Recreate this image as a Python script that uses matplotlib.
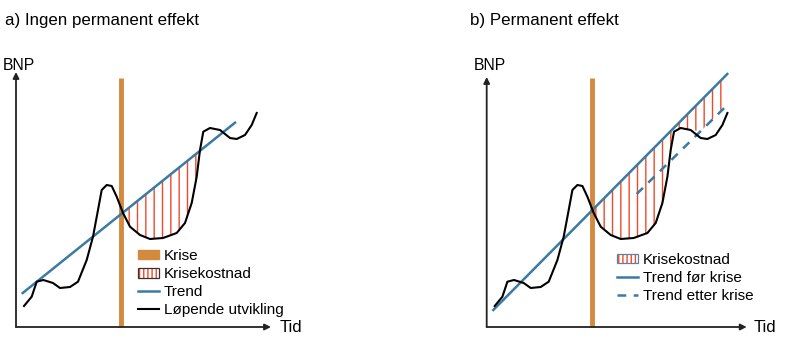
import numpy as np
import matplotlib.pyplot as plt
from matplotlib.patches import Patch
from matplotlib.lines import Line2D

plt.rcParams['font.family'] = ['Liberation Sans', 'DejaVu Sans']
plt.rcParams['hatch.linewidth'] = 1.0

# Løpende utvikling (tid, BNP) - same curve in both panels
tid = np.array([8, 15.7, 20.7, 27.3, 37, 44, 54, 62, 70.7, 77, 82, 85.7, 90.7, 95.7,
                100.7, 107, 114, 124, 134, 147, 160.7, 169, 175.7, 180.7, 184,
                187.3, 194, 204, 214, 220.7, 229, 235.7, 240.7])
bnp = np.array([21, 30.3, 45.3, 47, 44, 39, 40, 45.3, 67, 90.3, 117, 137, 142, 141,
                130.3, 114, 100.3, 92, 88, 89, 94, 104, 124, 150.3, 177,
                195.3, 199, 197, 189, 188, 192, 202, 214])

krise = 105

# trend lines (start/end points)
trend_a_x = [6.7, 219]
trend_a_y = [34, 204.3]
trend_b_x = [6.6, 240.6]
trend_b_y = [17, 253]
trend_etter_x = [150, 240.6]
trend_etter_y = [133, 222]

orange = '#d38a3e'
blue = '#3a7ba3'
red = '#ee4a2a'

fig = plt.figure(figsize=(7.97, 3.51), dpi=100)
W, H = 797, 351
ax1 = fig.add_axes([0, 0, 398 / W, 1])
ax2 = fig.add_axes([398 / W, 0, 399 / W, 1])
ax1.set_xlim(-16, 382)
ax2.set_xlim(-88.7, 310.3)
for ax in (ax1, ax2):
    ax.set_ylim(-24, 327)
    ax.axis('off')


def draw_axes(ax, xtip, ytip, bnp_x, tid_x):
    ax.annotate('', xy=(0, ytip), xytext=(0, 0),
                arrowprops=dict(arrowstyle='-|>', color='#222222', lw=1.3,
                                mutation_scale=9, shrinkA=0, shrinkB=0))
    ax.annotate('', xy=(xtip, 0), xytext=(0, 0),
                arrowprops=dict(arrowstyle='-|>', color='#222222', lw=1.3,
                                mutation_scale=9, shrinkA=0, shrinkB=0))
    ax.text(bnp_x, 262, 'BNP', fontsize=11.3, ha='left', va='center')
    ax.text(tid_x, 0, 'Tid', fontsize=12, ha='left', va='center')
    ax.plot([krise, krise], [0, 249], color=orange, lw=3.5, solid_capstyle='butt', zorder=2)


def kost_handle(border):
    return (Patch(facecolor='white', edgecolor=red, hatch='||||', linewidth=0),
            Patch(facecolor='none', edgecolor=border, linewidth=0.9))


# a) Ingen permanent effekt
draw_axes(ax1, 255, 255, -13, 264)
tr_a = np.interp(tid, trend_a_x, trend_a_y)
after = tid >= krise
rec_a = np.argmax(after & (tr_a < bnp) & (tid > 150))
mask_a = after & (np.arange(len(tid)) <= rec_a)
ax1.fill_between(tid, bnp, tr_a, where=mask_a & (tr_a > bnp) | (np.arange(len(tid)) == rec_a),
                 interpolate=True, facecolor='none', edgecolor=red, hatch='||',
                 linewidth=0, zorder=1)
ax1.plot(trend_a_x, trend_a_y, color=blue, lw=1.8, zorder=3)
ax1.plot(tid, bnp, color='black', lw=1.5, zorder=4, solid_joinstyle='round')

handles_a = [Patch(facecolor=orange, edgecolor=orange),
             kost_handle('#333333'),
             Line2D([], [], color=blue, lw=1.8),
             Line2D([], [], color='black', lw=1.5)]
ax1.legend(handles_a, ['Krise', 'Krisekostnad', 'Trend', 'Løpende utvikling'],
           loc='upper left', bbox_to_anchor=(122, 78), bbox_transform=ax1.transData,
           frameon=False, fontsize=11, handlelength=1.4, handleheight=0.6,
           handletextpad=0.3, labelspacing=0.27, borderpad=0, borderaxespad=0)

# b) Permanent effekt
draw_axes(ax2, 260, 250, -13.4, 266.6)
tr_b = np.interp(tid, trend_b_x, trend_b_y)
tr_e = np.interp(tid, trend_etter_x, trend_etter_y)
has_e = tid >= trend_etter_x[0]
rec = np.argmax(has_e & (bnp >= tr_e))
lower = bnp.copy()
lower[rec:] = np.maximum(bnp[rec:], tr_e[rec:])
ax2.fill_between(tid, lower, tr_b, where=(tr_b > lower) & after, interpolate=True,
                 facecolor='none', edgecolor=red, hatch='||', linewidth=0, zorder=1)
ax2.plot(trend_b_x, trend_b_y, color=blue, lw=1.8, zorder=3)
ax2.plot(trend_etter_x, trend_etter_y, color=blue, lw=1.8, ls=(0, (3.5, 3)), zorder=3)
ax2.plot(tid, bnp, color='black', lw=1.5, zorder=4, solid_joinstyle='round')

handles_b = [kost_handle('#5b82a6'),
             Line2D([], [], color=blue, lw=1.8),
             Line2D([], [], color=blue, lw=1.8, ls=(0, (3.5, 3)))]
ax2.legend(handles_b, ['Krisekostnad', 'Trend før krise', 'Trend etter krise'],
           loc='upper left', bbox_to_anchor=(130, 74), bbox_transform=ax2.transData,
           frameon=False, fontsize=11, handlelength=1.4, handleheight=0.6,
           handletextpad=0.3, labelspacing=0.27, borderpad=0, borderaxespad=0)

fig.text(5 / W, 1 - 20 / H, 'a) Ingen permanent effekt', fontsize=12.2, va='center')
fig.text(470 / W, 1 - 20 / H, 'b) Permanent effekt', fontsize=12.2, va='center')

fig.savefig('out.png', dpi=100)
